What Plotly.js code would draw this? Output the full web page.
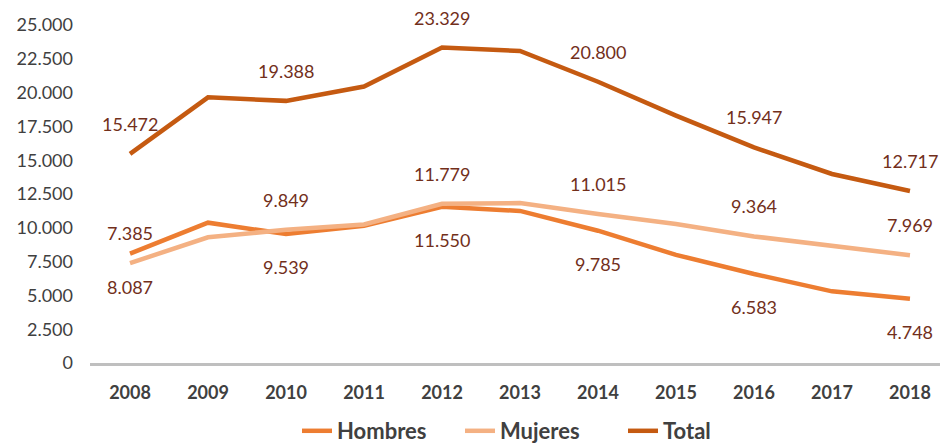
<!DOCTYPE html>
<html>
<head>
<meta charset="utf-8">
<script src="https://cdn.plot.ly/plotly-3.0.1.min.js"></script>
<style>html,body{margin:0;padding:0;background:#fff;}#chart{width:941px;height:443px;}</style>
</head>
<body>
<div id="chart"></div>
<script>
var years = ['2008','2009','2010','2011','2012','2013','2014','2015','2016','2017','2018'];
var hombres = [8087, 10380, 9539, 10150, 11550, 11250, 9785, 8000, 6583, 5300, 4748];
var mujeres = [7385, 9300, 9849, 10250, 11779, 11830, 11015, 10280, 9364, 8680, 7969];
var total   = [15472, 19650, 19388, 20450, 23329, 23080, 20800, 18300, 15947, 13980, 12717];
var labelledYears = ['2008','2010','2012','2014','2016','2018'];
var yTicks = [0, 2500, 5000, 7500, 10000, 12500, 15000, 17500, 20000, 22500, 25000];

var colH = '#ED7D31', colM = '#F4B183', colT = '#C55A11';
var labelColor = '#722F1B';
var FONT = 'Lato, "Open Sans", sans-serif';

function fmt(v){ return String(v).replace(/\B(?=(\d{3})+(?!\d))/g, '.'); }

function line(name, ys, color){
  return {type:'scatter', mode:'lines', name:name, x:years, y:ys,
    line:{color:color, width:4.5}, hoverinfo:'skip'};
}
var data = [line('Hombres', hombres, colH), line('Mujeres', mujeres, colM), line('Total', total, colT)];

var annotations = [];
function addLabels(ys, shift){
  years.forEach(function(yr, i){
    if (labelledYears.indexOf(yr) < 0) return;
    // category axis: annotation x given as category index
    annotations.push({x:i, y:ys[i], xref:'x', yref:'y', text:fmt(ys[i]), showarrow:false,
      yshift:shift, font:{family:FONT, size:18, color:labelColor}});
  });
}
addLabels(total, 30);
addLabels(mujeres, 30);
addLabels(hombres, -33);

var layout = {
  width:941, height:443,
  margin:{l:90, r:1, t:25, b:80},
  paper_bgcolor:'#fff', plot_bgcolor:'#fff',
  separators:',.',
  font:{family:FONT, size:18, color:'#404040'},
  showlegend:true,
  legend:{orientation:'h', xref:'container', yref:'container', x:297/941, xanchor:'left',
    y:12/443, yanchor:'middle', font:{family:FONT, size:22, color:'#404040', weight:'bold'},
    traceorder:'normal', entrywidth:118, entrywidthmode:'pixels'},
  xaxis:{type:'category', range:[-0.513, 10.385], showgrid:false, zeroline:false,
    showline:true, linecolor:'#BFBFBF', linewidth:3, ticks:'',
    tickfont:{family:FONT, size:18, color:'#404040', weight:'bold'}, ticklabelstandoff:11},
  yaxis:{range:[0, 25000], tickvals:yTicks, tickformat:',d', showgrid:false, zeroline:false,
    showline:false, ticks:'', tickfont:{family:FONT, size:18, color:'#404040'}, ticklabelstandoff:16},
  annotations:annotations
};
Plotly.newPlot('chart', data, layout, {displayModeBar:false, staticPlot:true});
</script>
</body>
</html>
